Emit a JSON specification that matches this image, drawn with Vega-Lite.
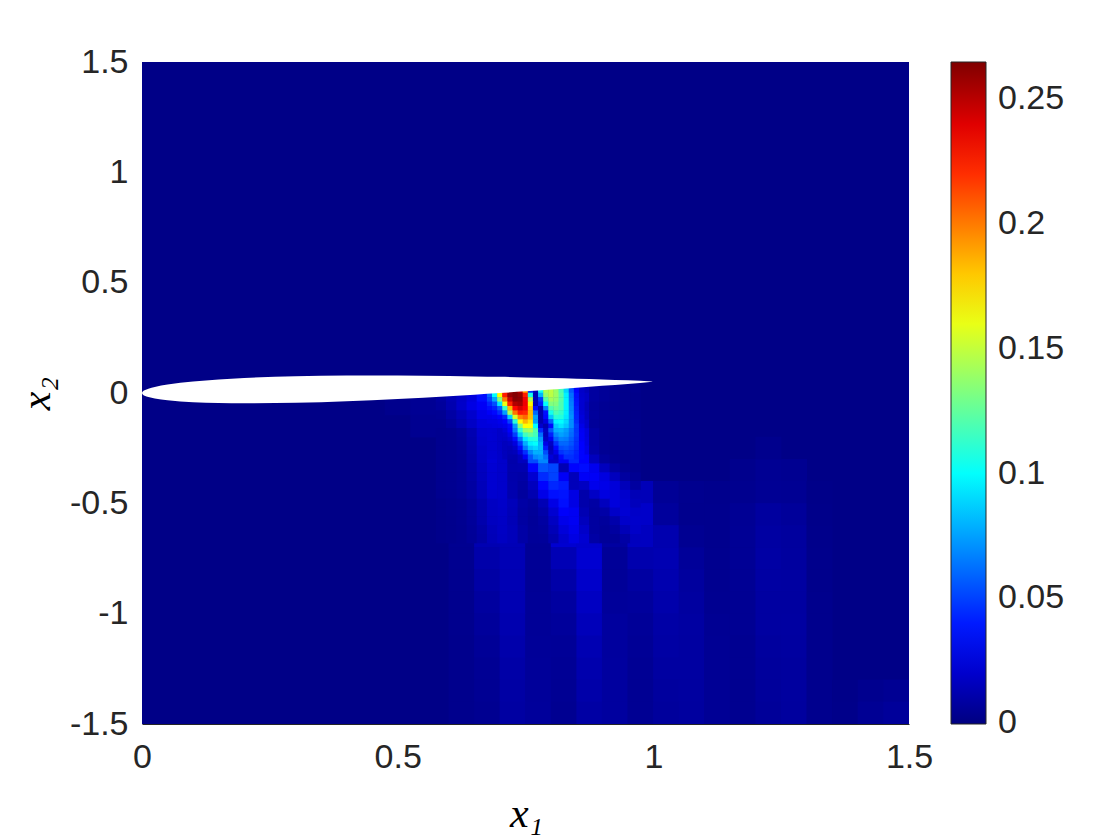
{
"$schema": "https://vega.github.io/schema/vega-lite/v6.json",
"width": 767, "height": 662,
"autosize": {"type": "none"},
"padding": {"left": 142, "top": 62, "right": 211, "bottom": 116},
"background": "white",
"config": {"view": {"stroke": null}, "font": "Liberation Sans"},
"datasets": {
"bg": [{"x":0,"x2":1.5,"y":-1.5,"y2":1.5,"v":0.0015}],
"foil": [
{"x":0,"y":0,"y2":0},{"x":0.001,"y":0.0056,"y2":-0.0055},{"x":0.005,"y":0.0125,"y2":-0.012},{"x":0.0125,"y":0.0196,"y2":-0.0183},{"x":0.025,"y":0.0274,"y2":-0.0248},{"x":0.05,"y":0.0382,"y2":-0.033},{"x":0.1,"y":0.052,"y2":-0.0416},{"x":0.15,"y":0.0612,"y2":-0.0456},{"x":0.2,"y":0.0678,"y2":-0.047},{"x":0.3,"y":0.0756,"y2":-0.0444},{"x":0.4,"y":0.0788,"y2":-0.0372},{"x":0.5,"y":0.0789,"y2":-0.0269},{"x":0.6,"y":0.0768,"y2":-0.0144},{"x":0.65,"y":0.0753,"y2":-0.0077},{"x":0.7,"y":0.0733,"y2":-0.0005},{"x":0.75,"y":0.0706,"y2":0.0074},{"x":0.8,"y":0.0678,"y2":0.0154},{"x":0.85,"y":0.0647,"y2":0.0237},{"x":0.9,"y":0.0613,"y2":0.0323},{"x":0.95,"y":0.0575,"y2":0.0413},{"x":0.998,"y":0.0525,"y2":0.0515}],
"C": [
{"x":0.5,"y":-0.05,"v":0.003},{"x":0.55,"y":-0.05,"v":0.005},{"x":0.55,"y":-0.15,"v":0.004},{"x":1.175,"y":-0.35,"v":0.003},{"x":1.225,"y":-0.35,"v":0.0045},{"x":1.275,"y":-0.35,"v":0.004},{"x":1.225,"y":-0.25,"v":0.003},
{"x":0.975,"y":-0.45,"v":0.0145},{"x":1.025,"y":-0.45,"v":0.0055},{"x":1.075,"y":-0.45,"v":0.0035},{"x":1.125,"y":-0.45,"v":0.003},{"x":1.175,"y":-0.45,"v":0.0035},{"x":1.225,"y":-0.45,"v":0.005},{"x":1.275,"y":-0.45,"v":0.0045},{"x":1.325,"y":-0.45,"v":0.002},
{"x":0.975,"y":-0.55,"v":0.019},{"x":1.025,"y":-0.55,"v":0.0069},{"x":1.075,"y":-0.55,"v":0.0032},{"x":1.125,"y":-0.55,"v":0.0032},{"x":1.175,"y":-0.55,"v":0.005},{"x":1.225,"y":-0.55,"v":0.0079},{"x":1.275,"y":-0.55,"v":0.0064},{"x":1.325,"y":-0.55,"v":0.0022},
{"x":0.625,"y":-0.65,"v":0.0041},{"x":0.675,"y":-0.65,"v":0.0128},{"x":0.725,"y":-0.65,"v":0.014},{"x":0.775,"y":-0.65,"v":0.0055},{"x":0.825,"y":-0.65,"v":0.021},{"x":0.875,"y":-0.65,"v":0.0199},{"x":0.925,"y":-0.65,"v":0.0082},{"x":0.975,"y":-0.65,"v":0.0166},{"x":1.025,"y":-0.65,"v":0.012},{"x":1.075,"y":-0.65,"v":0.0044},{"x":1.125,"y":-0.65,"v":0.0032},{"x":1.175,"y":-0.65,"v":0.0052},{"x":1.225,"y":-0.65,"v":0.0087},{"x":1.275,"y":-0.65,"v":0.0074},{"x":1.325,"y":-0.65,"v":0.0025},
{"x":0.625,"y":-0.75,"v":0.0037},{"x":0.675,"y":-0.75,"v":0.0107},{"x":0.725,"y":-0.75,"v":0.0137},{"x":0.775,"y":-0.75,"v":0.0053},{"x":0.825,"y":-0.75,"v":0.0135},{"x":0.875,"y":-0.75,"v":0.021},{"x":0.925,"y":-0.75,"v":0.006},{"x":0.975,"y":-0.75,"v":0.0117},{"x":1.025,"y":-0.75,"v":0.0129},{"x":1.075,"y":-0.75,"v":0.0061},{"x":1.125,"y":-0.75,"v":0.0035},{"x":1.175,"y":-0.75,"v":0.0051},{"x":1.225,"y":-0.75,"v":0.009},{"x":1.275,"y":-0.75,"v":0.0079},{"x":1.325,"y":-0.75,"v":0.0027},
{"x":0.625,"y":-0.85,"v":0.0035},{"x":0.675,"y":-0.85,"v":0.0093},{"x":0.725,"y":-0.85,"v":0.0132},{"x":0.775,"y":-0.85,"v":0.0054},{"x":0.825,"y":-0.85,"v":0.0101},{"x":0.875,"y":-0.85,"v":0.0192},{"x":0.925,"y":-0.85,"v":0.006},{"x":0.975,"y":-0.85,"v":0.0086},{"x":1.025,"y":-0.85,"v":0.0119},{"x":1.075,"y":-0.85,"v":0.0074},{"x":1.125,"y":-0.85,"v":0.0039},{"x":1.175,"y":-0.85,"v":0.005},{"x":1.225,"y":-0.85,"v":0.0089},{"x":1.275,"y":-0.85,"v":0.0082},{"x":1.325,"y":-0.85,"v":0.0028},
{"x":0.625,"y":-0.95,"v":0.0033},{"x":0.675,"y":-0.95,"v":0.0079},{"x":0.725,"y":-0.95,"v":0.0127},{"x":0.775,"y":-0.95,"v":0.0057},{"x":0.825,"y":-0.95,"v":0.008},{"x":0.875,"y":-0.95,"v":0.0169},{"x":0.925,"y":-0.95,"v":0.0065},{"x":0.975,"y":-0.95,"v":0.0071},{"x":1.025,"y":-0.95,"v":0.0109},{"x":1.075,"y":-0.95,"v":0.0081},{"x":1.125,"y":-0.95,"v":0.0042},{"x":1.175,"y":-0.95,"v":0.0046},{"x":1.225,"y":-0.95,"v":0.0083},{"x":1.275,"y":-0.95,"v":0.008},{"x":1.325,"y":-0.95,"v":0.0029},
{"x":0.625,"y":-1.05,"v":0.0032},{"x":0.675,"y":-1.05,"v":0.0068},{"x":0.725,"y":-1.05,"v":0.0119},{"x":0.775,"y":-1.05,"v":0.0058},{"x":0.825,"y":-1.05,"v":0.0066},{"x":0.875,"y":-1.05,"v":0.015},{"x":0.925,"y":-1.05,"v":0.0075},{"x":0.975,"y":-1.05,"v":0.006},{"x":1.025,"y":-1.05,"v":0.0097},{"x":1.075,"y":-1.05,"v":0.0085},{"x":1.125,"y":-1.05,"v":0.0046},{"x":1.175,"y":-1.05,"v":0.0045},{"x":1.225,"y":-1.05,"v":0.0082},{"x":1.275,"y":-1.05,"v":0.0082},{"x":1.325,"y":-1.05,"v":0.003},
{"x":0.625,"y":-1.15,"v":0.003},{"x":0.675,"y":-1.15,"v":0.0058},{"x":0.725,"y":-1.15,"v":0.011},{"x":0.775,"y":-1.15,"v":0.006},{"x":0.825,"y":-1.15,"v":0.0057},{"x":0.875,"y":-1.15,"v":0.0129},{"x":0.925,"y":-1.15,"v":0.0076},{"x":0.975,"y":-1.15,"v":0.0054},{"x":1.025,"y":-1.15,"v":0.009},{"x":1.075,"y":-1.15,"v":0.0084},{"x":1.125,"y":-1.15,"v":0.0048},{"x":1.175,"y":-1.15,"v":0.0042},{"x":1.225,"y":-1.15,"v":0.0075},{"x":1.275,"y":-1.15,"v":0.008},{"x":1.325,"y":-1.15,"v":0.0031},
{"x":0.625,"y":-1.25,"v":0.003},{"x":0.675,"y":-1.25,"v":0.005},{"x":0.725,"y":-1.25,"v":0.0099},{"x":0.775,"y":-1.25,"v":0.0061},{"x":0.825,"y":-1.25,"v":0.0051},{"x":0.875,"y":-1.25,"v":0.0116},{"x":0.925,"y":-1.25,"v":0.0079},{"x":0.975,"y":-1.25,"v":0.005},{"x":1.025,"y":-1.25,"v":0.0083},{"x":1.075,"y":-1.25,"v":0.0083},{"x":1.125,"y":-1.25,"v":0.005},{"x":1.175,"y":-1.25,"v":0.004},{"x":1.225,"y":-1.25,"v":0.0069},{"x":1.275,"y":-1.25,"v":0.0076},{"x":1.325,"y":-1.25,"v":0.0031},
{"x":0.625,"y":-1.35,"v":0.003},{"x":0.675,"y":-1.35,"v":0.0045},{"x":0.725,"y":-1.35,"v":0.0092},{"x":0.775,"y":-1.35,"v":0.0064},{"x":0.825,"y":-1.35,"v":0.0046},{"x":0.875,"y":-1.35,"v":0.0103},{"x":0.925,"y":-1.35,"v":0.0079},{"x":0.975,"y":-1.35,"v":0.0045},{"x":1.025,"y":-1.35,"v":0.0076},{"x":1.075,"y":-1.35,"v":0.0081},{"x":1.125,"y":-1.35,"v":0.0051},{"x":1.175,"y":-1.35,"v":0.0038},{"x":1.225,"y":-1.35,"v":0.0067},{"x":1.275,"y":-1.35,"v":0.0077},{"x":1.325,"y":-1.35,"v":0.0033},{"x":1.375,"y":-1.35,"v":0.002},{"x":1.425,"y":-1.35,"v":0.0035},{"x":1.475,"y":-1.35,"v":0.0045},
{"x":0.625,"y":-1.45,"v":0.003},{"x":0.675,"y":-1.45,"v":0.0041},{"x":0.725,"y":-1.45,"v":0.0085},{"x":0.775,"y":-1.45,"v":0.0067},{"x":0.825,"y":-1.45,"v":0.0042},{"x":0.875,"y":-1.45,"v":0.009},{"x":0.925,"y":-1.45,"v":0.0078},{"x":0.975,"y":-1.45,"v":0.0047},{"x":1.025,"y":-1.45,"v":0.0069},{"x":1.075,"y":-1.45,"v":0.0078},{"x":1.125,"y":-1.45,"v":0.0052},{"x":1.175,"y":-1.45,"v":0.0037},{"x":1.225,"y":-1.45,"v":0.0062},{"x":1.275,"y":-1.45,"v":0.0074},{"x":1.325,"y":-1.45,"v":0.0033},{"x":1.375,"y":-1.45,"v":0.0023},{"x":1.425,"y":-1.45,"v":0.0049},{"x":1.475,"y":-1.45,"v":0.0065}],
"M": [
{"x":0.865,"y":0.02,"v":0.015},{"x":0.885,"y":0.02,"v":0.008},{"x":0.905,"y":0.02,"v":0.006},{"x":0.925,"y":0.02,"v":0.004},{"x":0.945,"y":0.02,"v":0.003},{"x":0.965,"y":0.02,"v":0.003},
{"x":0.585,"y":-0.02,"v":0.008},{"x":0.605,"y":-0.02,"v":0.013},{"x":0.625,"y":-0.02,"v":0.018},{"x":0.645,"y":-0.02,"v":0.024},{"x":0.665,"y":-0.02,"v":0.036},{"x":0.865,"y":-0.02,"v":0.0175},{"x":0.885,"y":-0.02,"v":0.008},{"x":0.905,"y":-0.02,"v":0.006},{"x":0.925,"y":-0.02,"v":0.004},{"x":0.945,"y":-0.02,"v":0.003},{"x":0.965,"y":-0.02,"v":0.0025},
{"x":0.585,"y":-0.06,"v":0.007},{"x":0.605,"y":-0.06,"v":0.012},{"x":0.625,"y":-0.06,"v":0.019},{"x":0.645,"y":-0.06,"v":0.026},{"x":0.665,"y":-0.06,"v":0.031},{"x":0.865,"y":-0.06,"v":0.015},{"x":0.885,"y":-0.06,"v":0.007},{"x":0.905,"y":-0.06,"v":0.005},{"x":0.925,"y":-0.06,"v":0.0035},{"x":0.945,"y":-0.06,"v":0.003},{"x":0.965,"y":-0.06,"v":0.0025},
{"x":0.585,"y":-0.1,"v":0.005},{"x":0.605,"y":-0.1,"v":0.009},{"x":0.625,"y":-0.1,"v":0.014},{"x":0.645,"y":-0.1,"v":0.02},{"x":0.665,"y":-0.1,"v":0.027},{"x":0.865,"y":-0.1,"v":0.016},{"x":0.885,"y":-0.1,"v":0.007},{"x":0.905,"y":-0.1,"v":0.005},{"x":0.925,"y":-0.1,"v":0.004},{"x":0.945,"y":-0.1,"v":0.003},{"x":0.965,"y":-0.1,"v":0.0025},
{"x":0.585,"y":-0.14,"v":0.004},{"x":0.605,"y":-0.14,"v":0.007},{"x":0.625,"y":-0.14,"v":0.012},{"x":0.645,"y":-0.14,"v":0.018},{"x":0.665,"y":-0.14,"v":0.024},{"x":0.865,"y":-0.14,"v":0.019},{"x":0.885,"y":-0.14,"v":0.0065},{"x":0.905,"y":-0.14,"v":0.005},{"x":0.925,"y":-0.14,"v":0.004},{"x":0.945,"y":-0.14,"v":0.003},{"x":0.965,"y":-0.14,"v":0.003},
{"x":0.585,"y":-0.18,"v":0.0035},{"x":0.605,"y":-0.18,"v":0.004},{"x":0.625,"y":-0.18,"v":0.0065},{"x":0.645,"y":-0.18,"v":0.0125},{"x":0.665,"y":-0.18,"v":0.0205},{"x":0.865,"y":-0.18,"v":0.024},{"x":0.885,"y":-0.18,"v":0.009},{"x":0.905,"y":-0.18,"v":0.005},{"x":0.925,"y":-0.18,"v":0.0035},{"x":0.945,"y":-0.18,"v":0.003},{"x":0.965,"y":-0.18,"v":0.003},
{"x":0.585,"y":-0.22,"v":0.0035},{"x":0.605,"y":-0.22,"v":0.004},{"x":0.625,"y":-0.22,"v":0.006},{"x":0.645,"y":-0.22,"v":0.0115},{"x":0.665,"y":-0.22,"v":0.0195},{"x":0.865,"y":-0.22,"v":0.025},{"x":0.885,"y":-0.22,"v":0.009},{"x":0.905,"y":-0.22,"v":0.005},{"x":0.925,"y":-0.22,"v":0.0035},{"x":0.945,"y":-0.22,"v":0.003},{"x":0.965,"y":-0.22,"v":0.003},
{"x":0.585,"y":-0.26,"v":0.0035},{"x":0.605,"y":-0.26,"v":0.004},{"x":0.625,"y":-0.26,"v":0.0058},{"x":0.645,"y":-0.26,"v":0.011},{"x":0.665,"y":-0.26,"v":0.018},{"x":0.865,"y":-0.26,"v":0.027},{"x":0.885,"y":-0.26,"v":0.01},{"x":0.905,"y":-0.26,"v":0.005},{"x":0.925,"y":-0.26,"v":0.0035},{"x":0.945,"y":-0.26,"v":0.003},{"x":0.965,"y":-0.26,"v":0.003},
{"x":0.585,"y":-0.3,"v":0.0035},{"x":0.605,"y":-0.3,"v":0.004},{"x":0.625,"y":-0.3,"v":0.0055},{"x":0.645,"y":-0.3,"v":0.0105},{"x":0.665,"y":-0.3,"v":0.0175},{"x":0.685,"y":-0.3,"v":0.0225},{"x":0.705,"y":-0.3,"v":0.0195},{"x":0.725,"y":-0.3,"v":0.011},{"x":0.745,"y":-0.3,"v":0.016},{"x":0.765,"y":-0.3,"v":0.053},{"x":0.785,"y":-0.3,"v":0.068},{"x":0.805,"y":-0.3,"v":0.019},{"x":0.825,"y":-0.3,"v":0.031},{"x":0.845,"y":-0.3,"v":0.043},{"x":0.865,"y":-0.3,"v":0.033},{"x":0.885,"y":-0.3,"v":0.016},{"x":0.905,"y":-0.3,"v":0.007},{"x":0.925,"y":-0.3,"v":0.004},{"x":0.945,"y":-0.3,"v":0.003},{"x":0.965,"y":-0.3,"v":0.003},
{"x":0.585,"y":-0.34,"v":0.0035},{"x":0.605,"y":-0.34,"v":0.004},{"x":0.625,"y":-0.34,"v":0.0055},{"x":0.645,"y":-0.34,"v":0.01},{"x":0.665,"y":-0.34,"v":0.0165},{"x":0.685,"y":-0.34,"v":0.0215},{"x":0.705,"y":-0.34,"v":0.0195},{"x":0.725,"y":-0.34,"v":0.0115},{"x":0.745,"y":-0.34,"v":0.012},{"x":0.765,"y":-0.34,"v":0.034},{"x":0.785,"y":-0.34,"v":0.055},{"x":0.805,"y":-0.34,"v":0.051},{"x":0.825,"y":-0.34,"v":0.013},{"x":0.845,"y":-0.34,"v":0.034},{"x":0.865,"y":-0.34,"v":0.036},{"x":0.885,"y":-0.34,"v":0.029},{"x":0.905,"y":-0.34,"v":0.016},{"x":0.925,"y":-0.34,"v":0.008},{"x":0.945,"y":-0.34,"v":0.0045},{"x":0.965,"y":-0.34,"v":0.003},
{"x":0.585,"y":-0.38,"v":0.0035},{"x":0.605,"y":-0.38,"v":0.004},{"x":0.625,"y":-0.38,"v":0.0055},{"x":0.645,"y":-0.38,"v":0.0095},{"x":0.665,"y":-0.38,"v":0.016},{"x":0.685,"y":-0.38,"v":0.021},{"x":0.705,"y":-0.38,"v":0.0195},{"x":0.725,"y":-0.38,"v":0.011},{"x":0.745,"y":-0.38,"v":0.01},{"x":0.765,"y":-0.38,"v":0.021},{"x":0.785,"y":-0.38,"v":0.044},{"x":0.805,"y":-0.38,"v":0.05},{"x":0.825,"y":-0.38,"v":0.031},{"x":0.845,"y":-0.38,"v":0.015},{"x":0.865,"y":-0.38,"v":0.031},{"x":0.885,"y":-0.38,"v":0.031},{"x":0.905,"y":-0.38,"v":0.025},{"x":0.925,"y":-0.38,"v":0.016},{"x":0.945,"y":-0.38,"v":0.008},{"x":0.965,"y":-0.38,"v":0.0045},
{"x":0.585,"y":-0.42,"v":0.0035},{"x":0.605,"y":-0.42,"v":0.004},{"x":0.625,"y":-0.42,"v":0.0055},{"x":0.645,"y":-0.42,"v":0.0085},{"x":0.665,"y":-0.42,"v":0.015},{"x":0.685,"y":-0.42,"v":0.021},{"x":0.705,"y":-0.42,"v":0.0195},{"x":0.725,"y":-0.42,"v":0.0115},{"x":0.745,"y":-0.42,"v":0.0085},{"x":0.765,"y":-0.42,"v":0.016},{"x":0.785,"y":-0.42,"v":0.034},{"x":0.805,"y":-0.42,"v":0.043},{"x":0.825,"y":-0.42,"v":0.04},{"x":0.845,"y":-0.42,"v":0.015},{"x":0.865,"y":-0.42,"v":0.017},{"x":0.885,"y":-0.42,"v":0.028},{"x":0.905,"y":-0.42,"v":0.027},{"x":0.925,"y":-0.42,"v":0.023},{"x":0.945,"y":-0.42,"v":0.015},{"x":0.965,"y":-0.42,"v":0.008},
{"x":0.585,"y":-0.46,"v":0.0035},{"x":0.605,"y":-0.46,"v":0.004},{"x":0.625,"y":-0.46,"v":0.0055},{"x":0.645,"y":-0.46,"v":0.0085},{"x":0.665,"y":-0.46,"v":0.0145},{"x":0.685,"y":-0.46,"v":0.0205},{"x":0.705,"y":-0.46,"v":0.02},{"x":0.725,"y":-0.46,"v":0.012},{"x":0.745,"y":-0.46,"v":0.0075},{"x":0.765,"y":-0.46,"v":0.0125},{"x":0.785,"y":-0.46,"v":0.027},{"x":0.805,"y":-0.46,"v":0.037},{"x":0.825,"y":-0.46,"v":0.038},{"x":0.845,"y":-0.46,"v":0.026},{"x":0.865,"y":-0.46,"v":0.011},{"x":0.885,"y":-0.46,"v":0.018},{"x":0.905,"y":-0.46,"v":0.025},{"x":0.925,"y":-0.46,"v":0.024},{"x":0.945,"y":-0.46,"v":0.02},{"x":0.965,"y":-0.46,"v":0.014},
{"x":0.585,"y":-0.5,"v":0.0025},{"x":0.605,"y":-0.5,"v":0.0032},{"x":0.625,"y":-0.5,"v":0.004},{"x":0.645,"y":-0.5,"v":0.0067},{"x":0.665,"y":-0.5,"v":0.0118},{"x":0.685,"y":-0.5,"v":0.0174},{"x":0.705,"y":-0.5,"v":0.0188},{"x":0.725,"y":-0.5,"v":0.0148},{"x":0.745,"y":-0.5,"v":0.0093},{"x":0.765,"y":-0.5,"v":0.0075},{"x":0.785,"y":-0.5,"v":0.0135},{"x":0.805,"y":-0.5,"v":0.0265},{"x":0.825,"y":-0.5,"v":0.0367},{"x":0.845,"y":-0.5,"v":0.026},{"x":0.865,"y":-0.5,"v":0.011},{"x":0.885,"y":-0.5,"v":0.009},{"x":0.905,"y":-0.5,"v":0.016},{"x":0.925,"y":-0.5,"v":0.024},{"x":0.945,"y":-0.5,"v":0.021},{"x":0.965,"y":-0.5,"v":0.0154},
{"x":0.585,"y":-0.54,"v":0.0025},{"x":0.605,"y":-0.54,"v":0.0032},{"x":0.625,"y":-0.54,"v":0.004},{"x":0.645,"y":-0.54,"v":0.0066},{"x":0.665,"y":-0.54,"v":0.0115},{"x":0.685,"y":-0.54,"v":0.017},{"x":0.705,"y":-0.54,"v":0.0183},{"x":0.725,"y":-0.54,"v":0.0145},{"x":0.745,"y":-0.54,"v":0.0087},{"x":0.765,"y":-0.54,"v":0.0067},{"x":0.785,"y":-0.54,"v":0.0105},{"x":0.805,"y":-0.54,"v":0.021},{"x":0.825,"y":-0.54,"v":0.032},{"x":0.845,"y":-0.54,"v":0.03},{"x":0.865,"y":-0.54,"v":0.013},{"x":0.885,"y":-0.54,"v":0.008},{"x":0.905,"y":-0.54,"v":0.01},{"x":0.925,"y":-0.54,"v":0.0187},{"x":0.945,"y":-0.54,"v":0.0218},{"x":0.965,"y":-0.54,"v":0.0185},
{"x":0.585,"y":-0.58,"v":0.0025},{"x":0.605,"y":-0.58,"v":0.003},{"x":0.625,"y":-0.58,"v":0.004},{"x":0.645,"y":-0.58,"v":0.0065},{"x":0.665,"y":-0.58,"v":0.0112},{"x":0.685,"y":-0.58,"v":0.0165},{"x":0.705,"y":-0.58,"v":0.0178},{"x":0.725,"y":-0.58,"v":0.0141},{"x":0.745,"y":-0.58,"v":0.0086},{"x":0.765,"y":-0.58,"v":0.0061},{"x":0.785,"y":-0.58,"v":0.0087},{"x":0.805,"y":-0.58,"v":0.017},{"x":0.825,"y":-0.58,"v":0.0277},{"x":0.845,"y":-0.58,"v":0.03},{"x":0.865,"y":-0.58,"v":0.0158},{"x":0.885,"y":-0.58,"v":0.008},{"x":0.905,"y":-0.58,"v":0.007},{"x":0.925,"y":-0.58,"v":0.011},{"x":0.945,"y":-0.58,"v":0.0192},{"x":0.965,"y":-0.58,"v":0.0193},
{"x":0.585,"y":-0.62,"v":0.0025},{"x":0.605,"y":-0.62,"v":0.003},{"x":0.625,"y":-0.62,"v":0.0039},{"x":0.645,"y":-0.62,"v":0.006},{"x":0.665,"y":-0.62,"v":0.0097},{"x":0.685,"y":-0.62,"v":0.0149},{"x":0.705,"y":-0.62,"v":0.0175},{"x":0.725,"y":-0.62,"v":0.0149},{"x":0.745,"y":-0.62,"v":0.0097},{"x":0.765,"y":-0.62,"v":0.0064},{"x":0.785,"y":-0.62,"v":0.0074},{"x":0.805,"y":-0.62,"v":0.014},{"x":0.825,"y":-0.62,"v":0.0233},{"x":0.845,"y":-0.62,"v":0.028},{"x":0.865,"y":-0.62,"v":0.019},{"x":0.885,"y":-0.62,"v":0.008},{"x":0.905,"y":-0.62,"v":0.006},{"x":0.925,"y":-0.62,"v":0.008},{"x":0.945,"y":-0.62,"v":0.014},{"x":0.965,"y":-0.62,"v":0.0185},
{"x":0.585,"y":-0.66,"v":0.0025},{"x":0.605,"y":-0.66,"v":0.003},{"x":0.625,"y":-0.66,"v":0.0038},{"x":0.645,"y":-0.66,"v":0.0057},{"x":0.665,"y":-0.66,"v":0.0092},{"x":0.685,"y":-0.66,"v":0.0143},{"x":0.705,"y":-0.66,"v":0.017},{"x":0.725,"y":-0.66,"v":0.0148},{"x":0.745,"y":-0.66,"v":0.0096},{"x":0.765,"y":-0.66,"v":0.0061},{"x":0.785,"y":-0.66,"v":0.0065},{"x":0.805,"y":-0.66,"v":0.0115},{"x":0.825,"y":-0.66,"v":0.02},{"x":0.845,"y":-0.66,"v":0.0258},{"x":0.865,"y":-0.66,"v":0.021},{"x":0.885,"y":-0.66,"v":0.0094},{"x":0.905,"y":-0.66,"v":0.006},{"x":0.925,"y":-0.66,"v":0.006},{"x":0.945,"y":-0.66,"v":0.0094},{"x":0.965,"y":-0.66,"v":0.0159}],
"F": [
{"x":0.82,"y":0.03,"v":0.118},{"x":0.83,"y":0.03,"v":0.089},{"x":0.84,"y":0.03,"v":0.056},{"x":0.85,"y":0.03,"v":0.033},{"x":0.86,"y":0.03,"v":0.019},
{"x":0.7,"y":0.01,"v":0.192},{"x":0.71,"y":0.01,"v":0.242},{"x":0.72,"y":0.01,"v":0.264},{"x":0.73,"y":0.01,"v":0.264},{"x":0.74,"y":0.01,"v":0.249},{"x":0.75,"y":0.01,"v":0.191},{"x":0.76,"y":0.01,"v":0.046},{"x":0.77,"y":0.01,"v":0.014},{"x":0.78,"y":0.01,"v":0.103},{"x":0.79,"y":0.01,"v":0.145},{"x":0.8,"y":0.01,"v":0.149},{"x":0.81,"y":0.01,"v":0.139},{"x":0.82,"y":0.01,"v":0.118},{"x":0.83,"y":0.01,"v":0.089},{"x":0.84,"y":0.01,"v":0.056},{"x":0.85,"y":0.01,"v":0.033},{"x":0.86,"y":0.01,"v":0.019},
{"x":0.68,"y":-0.01,"v":0.059},{"x":0.69,"y":-0.01,"v":0.1},{"x":0.7,"y":-0.01,"v":0.165},{"x":0.71,"y":-0.01,"v":0.225},{"x":0.72,"y":-0.01,"v":0.259},{"x":0.73,"y":-0.01,"v":0.264},{"x":0.74,"y":-0.01,"v":0.26},{"x":0.75,"y":-0.01,"v":0.224},{"x":0.76,"y":-0.01,"v":0.105},{"x":0.77,"y":-0.01,"v":0.013},{"x":0.78,"y":-0.01,"v":0.08},{"x":0.79,"y":-0.01,"v":0.138},{"x":0.8,"y":-0.01,"v":0.148},{"x":0.81,"y":-0.01,"v":0.14},{"x":0.82,"y":-0.01,"v":0.122},{"x":0.83,"y":-0.01,"v":0.096},{"x":0.84,"y":-0.01,"v":0.062},{"x":0.85,"y":-0.01,"v":0.036},{"x":0.86,"y":-0.01,"v":0.02},
{"x":0.68,"y":-0.03,"v":0.051},{"x":0.69,"y":-0.03,"v":0.076},{"x":0.7,"y":-0.03,"v":0.134},{"x":0.71,"y":-0.03,"v":0.2},{"x":0.72,"y":-0.03,"v":0.246},{"x":0.73,"y":-0.03,"v":0.263},{"x":0.74,"y":-0.03,"v":0.261},{"x":0.75,"y":-0.03,"v":0.234},{"x":0.76,"y":-0.03,"v":0.146},{"x":0.77,"y":-0.03,"v":0.014},{"x":0.78,"y":-0.03,"v":0.048},{"x":0.79,"y":-0.03,"v":0.122},{"x":0.8,"y":-0.03,"v":0.142},{"x":0.81,"y":-0.03,"v":0.138},{"x":0.82,"y":-0.03,"v":0.122},{"x":0.83,"y":-0.03,"v":0.097},{"x":0.84,"y":-0.03,"v":0.064},{"x":0.85,"y":-0.03,"v":0.037},{"x":0.86,"y":-0.03,"v":0.021},
{"x":0.68,"y":-0.05,"v":0.042},{"x":0.69,"y":-0.05,"v":0.053},{"x":0.7,"y":-0.05,"v":0.093},{"x":0.71,"y":-0.05,"v":0.161},{"x":0.72,"y":-0.05,"v":0.223},{"x":0.73,"y":-0.05,"v":0.252},{"x":0.74,"y":-0.05,"v":0.256},{"x":0.75,"y":-0.05,"v":0.236},{"x":0.76,"y":-0.05,"v":0.168},{"x":0.77,"y":-0.05,"v":0.014},{"x":0.78,"y":-0.05,"v":0.04},{"x":0.79,"y":-0.05,"v":0.1},{"x":0.8,"y":-0.05,"v":0.133},{"x":0.81,"y":-0.05,"v":0.133},{"x":0.82,"y":-0.05,"v":0.12},{"x":0.83,"y":-0.05,"v":0.097},{"x":0.84,"y":-0.05,"v":0.066},{"x":0.85,"y":-0.05,"v":0.038},{"x":0.86,"y":-0.05,"v":0.021},
{"x":0.68,"y":-0.07,"v":0.036},{"x":0.69,"y":-0.07,"v":0.041},{"x":0.7,"y":-0.07,"v":0.057},{"x":0.71,"y":-0.07,"v":0.113},{"x":0.72,"y":-0.07,"v":0.184},{"x":0.73,"y":-0.07,"v":0.23},{"x":0.74,"y":-0.07,"v":0.243},{"x":0.75,"y":-0.07,"v":0.233},{"x":0.76,"y":-0.07,"v":0.18},{"x":0.77,"y":-0.07,"v":0.035},{"x":0.78,"y":-0.07,"v":0.012},{"x":0.79,"y":-0.07,"v":0.067},{"x":0.8,"y":-0.07,"v":0.12},{"x":0.81,"y":-0.07,"v":0.127},{"x":0.82,"y":-0.07,"v":0.12},{"x":0.83,"y":-0.07,"v":0.097},{"x":0.84,"y":-0.07,"v":0.068},{"x":0.85,"y":-0.07,"v":0.04},{"x":0.86,"y":-0.07,"v":0.021},
{"x":0.68,"y":-0.09,"v":0.031},{"x":0.69,"y":-0.09,"v":0.035},{"x":0.7,"y":-0.09,"v":0.044},{"x":0.71,"y":-0.09,"v":0.074},{"x":0.72,"y":-0.09,"v":0.144},{"x":0.73,"y":-0.09,"v":0.202},{"x":0.74,"y":-0.09,"v":0.226},{"x":0.75,"y":-0.09,"v":0.222},{"x":0.76,"y":-0.09,"v":0.184},{"x":0.77,"y":-0.09,"v":0.06},{"x":0.78,"y":-0.09,"v":0.012},{"x":0.79,"y":-0.09,"v":0.037},{"x":0.8,"y":-0.09,"v":0.104},{"x":0.81,"y":-0.09,"v":0.119},{"x":0.82,"y":-0.09,"v":0.113},{"x":0.83,"y":-0.09,"v":0.096},{"x":0.84,"y":-0.09,"v":0.069},{"x":0.85,"y":-0.09,"v":0.041},{"x":0.86,"y":-0.09,"v":0.022},
{"x":0.68,"y":-0.11,"v":0.027},{"x":0.69,"y":-0.11,"v":0.029},{"x":0.7,"y":-0.11,"v":0.033},{"x":0.71,"y":-0.11,"v":0.043},{"x":0.72,"y":-0.11,"v":0.088},{"x":0.73,"y":-0.11,"v":0.155},{"x":0.74,"y":-0.11,"v":0.197},{"x":0.75,"y":-0.11,"v":0.205},{"x":0.76,"y":-0.11,"v":0.183},{"x":0.77,"y":-0.11,"v":0.075},{"x":0.78,"y":-0.11,"v":0.012},{"x":0.79,"y":-0.11,"v":0.035},{"x":0.8,"y":-0.11,"v":0.085},{"x":0.81,"y":-0.11,"v":0.11},{"x":0.82,"y":-0.11,"v":0.108},{"x":0.83,"y":-0.11,"v":0.094},{"x":0.84,"y":-0.11,"v":0.071},{"x":0.85,"y":-0.11,"v":0.042},{"x":0.86,"y":-0.11,"v":0.024},
{"x":0.68,"y":-0.13,"v":0.026},{"x":0.69,"y":-0.13,"v":0.026},{"x":0.7,"y":-0.13,"v":0.028},{"x":0.71,"y":-0.13,"v":0.033},{"x":0.72,"y":-0.13,"v":0.05},{"x":0.73,"y":-0.13,"v":0.11},{"x":0.74,"y":-0.13,"v":0.167},{"x":0.75,"y":-0.13,"v":0.185},{"x":0.76,"y":-0.13,"v":0.172},{"x":0.77,"y":-0.13,"v":0.075},{"x":0.78,"y":-0.13,"v":0.012},{"x":0.79,"y":-0.13,"v":0.025},{"x":0.8,"y":-0.13,"v":0.058},{"x":0.81,"y":-0.13,"v":0.097},{"x":0.82,"y":-0.13,"v":0.1},{"x":0.83,"y":-0.13,"v":0.09},{"x":0.84,"y":-0.13,"v":0.07},{"x":0.85,"y":-0.13,"v":0.044},{"x":0.86,"y":-0.13,"v":0.024},
{"x":0.68,"y":-0.15,"v":0.024},{"x":0.69,"y":-0.15,"v":0.025},{"x":0.7,"y":-0.15,"v":0.026},{"x":0.71,"y":-0.15,"v":0.028},{"x":0.72,"y":-0.15,"v":0.035},{"x":0.73,"y":-0.15,"v":0.073},{"x":0.74,"y":-0.15,"v":0.134},{"x":0.75,"y":-0.15,"v":0.166},{"x":0.76,"y":-0.15,"v":0.164},{"x":0.77,"y":-0.15,"v":0.1},{"x":0.78,"y":-0.15,"v":0.02},{"x":0.79,"y":-0.15,"v":0.012},{"x":0.8,"y":-0.15,"v":0.035},{"x":0.81,"y":-0.15,"v":0.085},{"x":0.82,"y":-0.15,"v":0.093},{"x":0.83,"y":-0.15,"v":0.085},{"x":0.84,"y":-0.15,"v":0.07},{"x":0.85,"y":-0.15,"v":0.048},{"x":0.86,"y":-0.15,"v":0.027},
{"x":0.68,"y":-0.17,"v":0.0215},{"x":0.69,"y":-0.17,"v":0.021},{"x":0.7,"y":-0.17,"v":0.019},{"x":0.71,"y":-0.17,"v":0.023},{"x":0.72,"y":-0.17,"v":0.033},{"x":0.73,"y":-0.17,"v":0.064},{"x":0.74,"y":-0.17,"v":0.11},{"x":0.75,"y":-0.17,"v":0.137},{"x":0.76,"y":-0.17,"v":0.142},{"x":0.77,"y":-0.17,"v":0.12},{"x":0.78,"y":-0.17,"v":0.044},{"x":0.79,"y":-0.17,"v":0.017},{"x":0.8,"y":-0.17,"v":0.055},{"x":0.81,"y":-0.17,"v":0.078},{"x":0.82,"y":-0.17,"v":0.08},{"x":0.83,"y":-0.17,"v":0.074},{"x":0.84,"y":-0.17,"v":0.063},{"x":0.85,"y":-0.17,"v":0.047},{"x":0.86,"y":-0.17,"v":0.03},
{"x":0.68,"y":-0.19,"v":0.0215},{"x":0.69,"y":-0.19,"v":0.021},{"x":0.7,"y":-0.19,"v":0.019},{"x":0.71,"y":-0.19,"v":0.02},{"x":0.72,"y":-0.19,"v":0.027},{"x":0.73,"y":-0.19,"v":0.049},{"x":0.74,"y":-0.19,"v":0.086},{"x":0.75,"y":-0.19,"v":0.116},{"x":0.76,"y":-0.19,"v":0.125},{"x":0.77,"y":-0.19,"v":0.117},{"x":0.78,"y":-0.19,"v":0.062},{"x":0.79,"y":-0.19,"v":0.015},{"x":0.8,"y":-0.19,"v":0.041},{"x":0.81,"y":-0.19,"v":0.068},{"x":0.82,"y":-0.19,"v":0.075},{"x":0.83,"y":-0.19,"v":0.071},{"x":0.84,"y":-0.19,"v":0.061},{"x":0.85,"y":-0.19,"v":0.048},{"x":0.86,"y":-0.19,"v":0.031},
{"x":0.68,"y":-0.21,"v":0.0215},{"x":0.69,"y":-0.21,"v":0.021},{"x":0.7,"y":-0.21,"v":0.019},{"x":0.71,"y":-0.21,"v":0.018},{"x":0.72,"y":-0.21,"v":0.022},{"x":0.73,"y":-0.21,"v":0.036},{"x":0.74,"y":-0.21,"v":0.064},{"x":0.75,"y":-0.21,"v":0.094},{"x":0.76,"y":-0.21,"v":0.108},{"x":0.77,"y":-0.21,"v":0.109},{"x":0.78,"y":-0.21,"v":0.073},{"x":0.79,"y":-0.21,"v":0.018},{"x":0.8,"y":-0.21,"v":0.03},{"x":0.81,"y":-0.21,"v":0.058},{"x":0.82,"y":-0.21,"v":0.067},{"x":0.83,"y":-0.21,"v":0.065},{"x":0.84,"y":-0.21,"v":0.057},{"x":0.85,"y":-0.21,"v":0.046},{"x":0.86,"y":-0.21,"v":0.031},
{"x":0.68,"y":-0.23,"v":0.021},{"x":0.69,"y":-0.23,"v":0.021},{"x":0.7,"y":-0.23,"v":0.019},{"x":0.71,"y":-0.23,"v":0.016},{"x":0.72,"y":-0.23,"v":0.0175},{"x":0.73,"y":-0.23,"v":0.025},{"x":0.74,"y":-0.23,"v":0.047},{"x":0.75,"y":-0.23,"v":0.078},{"x":0.76,"y":-0.23,"v":0.096},{"x":0.77,"y":-0.23,"v":0.1},{"x":0.78,"y":-0.23,"v":0.08},{"x":0.79,"y":-0.23,"v":0.027},{"x":0.8,"y":-0.23,"v":0.018},{"x":0.81,"y":-0.23,"v":0.046},{"x":0.82,"y":-0.23,"v":0.06},{"x":0.83,"y":-0.23,"v":0.06},{"x":0.84,"y":-0.23,"v":0.055},{"x":0.85,"y":-0.23,"v":0.045},{"x":0.86,"y":-0.23,"v":0.033},
{"x":0.68,"y":-0.25,"v":0.021},{"x":0.69,"y":-0.25,"v":0.021},{"x":0.7,"y":-0.25,"v":0.019},{"x":0.71,"y":-0.25,"v":0.016},{"x":0.72,"y":-0.25,"v":0.015},{"x":0.73,"y":-0.25,"v":0.019},{"x":0.74,"y":-0.25,"v":0.036},{"x":0.75,"y":-0.25,"v":0.064},{"x":0.76,"y":-0.25,"v":0.084},{"x":0.77,"y":-0.25,"v":0.089},{"x":0.78,"y":-0.25,"v":0.081},{"x":0.79,"y":-0.25,"v":0.039},{"x":0.8,"y":-0.25,"v":0.014},{"x":0.81,"y":-0.25,"v":0.035},{"x":0.82,"y":-0.25,"v":0.053},{"x":0.83,"y":-0.25,"v":0.055},{"x":0.84,"y":-0.25,"v":0.051},{"x":0.85,"y":-0.25,"v":0.044},{"x":0.86,"y":-0.25,"v":0.033},
{"x":0.68,"y":-0.27,"v":0.021},{"x":0.69,"y":-0.27,"v":0.021},{"x":0.7,"y":-0.27,"v":0.019},{"x":0.71,"y":-0.27,"v":0.0155},{"x":0.72,"y":-0.27,"v":0.0135},{"x":0.73,"y":-0.27,"v":0.015},{"x":0.74,"y":-0.27,"v":0.025},{"x":0.75,"y":-0.27,"v":0.045},{"x":0.76,"y":-0.27,"v":0.068},{"x":0.77,"y":-0.27,"v":0.079},{"x":0.78,"y":-0.27,"v":0.079},{"x":0.79,"y":-0.27,"v":0.053},{"x":0.8,"y":-0.27,"v":0.016},{"x":0.81,"y":-0.27,"v":0.027},{"x":0.82,"y":-0.27,"v":0.046},{"x":0.83,"y":-0.27,"v":0.05},{"x":0.84,"y":-0.27,"v":0.048},{"x":0.85,"y":-0.27,"v":0.042},{"x":0.86,"y":-0.27,"v":0.034},
{"x":0.68,"y":-0.29,"v":0.021},{"x":0.69,"y":-0.29,"v":0.021},{"x":0.7,"y":-0.29,"v":0.019},{"x":0.71,"y":-0.29,"v":0.0155},{"x":0.72,"y":-0.29,"v":0.012},{"x":0.73,"y":-0.29,"v":0.0115},{"x":0.74,"y":-0.29,"v":0.016},{"x":0.75,"y":-0.29,"v":0.031},{"x":0.76,"y":-0.29,"v":0.055},{"x":0.77,"y":-0.29,"v":0.069},{"x":0.78,"y":-0.29,"v":0.073},{"x":0.79,"y":-0.29,"v":0.062},{"x":0.8,"y":-0.29,"v":0.023},{"x":0.81,"y":-0.29,"v":0.017},{"x":0.82,"y":-0.29,"v":0.035},{"x":0.83,"y":-0.29,"v":0.045},{"x":0.84,"y":-0.29,"v":0.045},{"x":0.85,"y":-0.29,"v":0.041},{"x":0.86,"y":-0.29,"v":0.034}]
},
"encoding": {
"x": {"field": "x", "type": "quantitative", "scale": {"domain": [0, 1.5], "nice": false, "zero": false},
 "axis": {"values": [0, 0.5, 1, 1.5], "labelExpr": "'' + datum.value", "labelFlush": false, "labelOverlap": false, "labelPadding": 16, "labelFont": "Liberation Sans", "labelFontSize": 34, "labelColor": "#262626", "ticks": false, "grid": false, "domain": true, "domainColor": "#262626", "domainWidth": 1, "title": "x₁", "titleFont": "Liberation Serif", "titleFontStyle": "italic", "titleFontWeight": "normal", "titleFontSize": 42, "titleColor": "#000000", "titleX": 384, "titleY": 102, "titleAlign": "center", "titleBaseline": "alphabetic"}},
"y": {"field": "y", "type": "quantitative", "scale": {"domain": [-1.5, 1.5], "nice": false, "zero": false},
 "axis": {"values": [-1.5, -1, -0.5, 0, 0.5, 1, 1.5], "labelExpr": "'' + datum.value", "labelFlush": false, "labelOverlap": false, "labelPadding": 14, "labelFont": "Liberation Sans", "labelFontSize": 34, "labelColor": "#262626", "ticks": false, "grid": false, "domain": false, "title": "x₂", "titleFont": "Liberation Serif", "titleFontStyle": "italic", "titleFontWeight": "normal", "titleFontSize": 42, "titleColor": "#000000", "titleX": -93, "titleY": 331, "titleAngle": 270, "titleAlign": "center", "titleBaseline": "alphabetic"}},
"color": {"field": "v", "type": "quantitative",
 "scale": {"type": "linear", "domain": [-0.0004, 0.033125, 0.099375, 0.165625, 0.231875, 0.265], "range": ["#000080", "#0000ff", "#00ffff", "#ffff00", "#ff0000", "#800000"], "interpolate": "rgb", "clamp": true, "zero": false, "nice": false},
 "legend": {"orient": "none", "legendX": 809, "legendY": 0, "direction": "vertical", "gradientLength": 662, "gradientThickness": 35, "title": null, "values": [0, 0.05, 0.1, 0.15, 0.2, 0.25], "labelExpr": "'' + datum.value", "labelFont": "Liberation Sans", "labelFontSize": 34, "labelColor": "#262626", "labelOffset": 12, "labelOverlap": false, "gradientStrokeColor": "#262626", "gradientStrokeWidth": 1, "padding": 0}}
},
"layer": [
{"data": {"name": "bg"}, "mark": {"type": "rect"}, "encoding": {"x2": {"field": "x2"}, "y2": {"field": "y2"}}},
{"data": {"name": "C"}, "mark": {"type": "point", "shape": "M-1,-0.866H1V0.866H-1Z", "size": 681, "filled": true, "opacity": 1, "strokeWidth": 0, "clip": true}},
{"data": {"name": "M"}, "mark": {"type": "point", "shape": "M-1,-0.869H1V0.869H-1Z", "size": 114.5, "filled": true, "opacity": 1, "strokeWidth": 0, "clip": true}},
{"data": {"name": "F"}, "mark": {"type": "point", "shape": "M-1,-0.875H1V0.875H-1Z", "size": 31.4, "filled": true, "opacity": 1, "strokeWidth": 0, "clip": true}},
{"data": {"name": "foil"}, "mark": {"type": "area", "interpolate": "monotone", "opacity": 1}, "encoding": {"y2": {"field": "y2"}, "color": {"value": "white"}}}
]
}
